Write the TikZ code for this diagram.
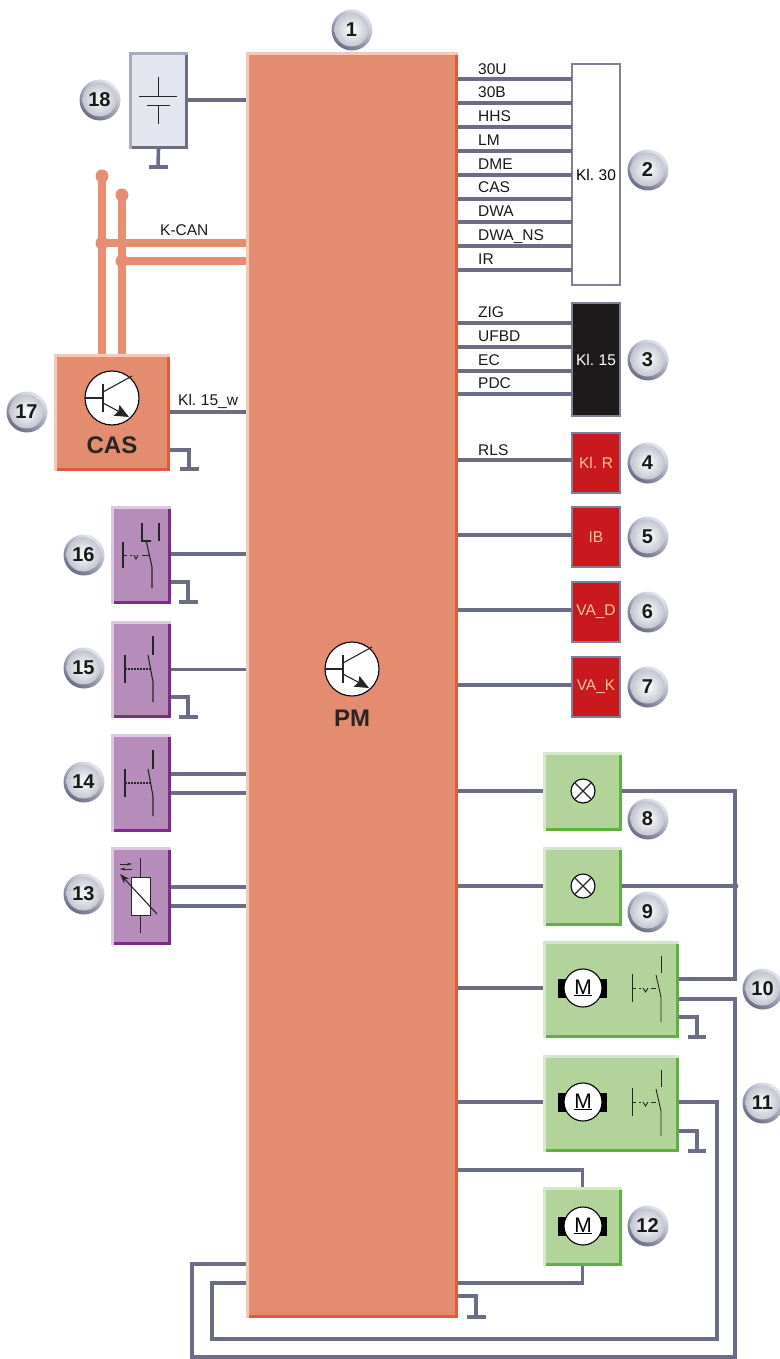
\documentclass[tikz,border=0pt]{standalone}
\usepackage{fontspec}
\setmainfont{Liberation Sans}[WordSpace=0.75]
\usetikzlibrary{arrows.meta,shadings}
\definecolor{wirec}{HTML}{6B6D85}
\definecolor{orF}{HTML}{E48C70}\definecolor{orL}{HTML}{F5C9B7}\definecolor{orD}{HTML}{DD5C3C}
\definecolor{busc}{HTML}{E98D72}
\definecolor{grF}{HTML}{B2D49A}\definecolor{grL}{HTML}{D6E8C8}\definecolor{grD}{HTML}{5EB13E}
\definecolor{puF}{HTML}{B68CBA}\definecolor{puL}{HTML}{DCC9DF}\definecolor{puD}{HTML}{7E2A8B}
\definecolor{gyF}{HTML}{E4E6EF}\definecolor{gyL}{HTML}{A8AABD}\definecolor{gyD}{HTML}{6B6D85}
\definecolor{redbox}{HTML}{C9191F}\definecolor{redtxt}{HTML}{F3C59A}\definecolor{blackbox}{HTML}{1D1A1C}
\definecolor{edgec}{HTML}{7F8199}
\tikzset{
  x=1pt,y=-1pt,
  wire/.style={draw=wirec,line width=3.6pt},
  bus/.style={draw=busc,line width=7.5pt},
  busdot/.style={circle,fill=busc,minimum size=13pt,inner sep=0pt,outer sep=0pt},
  sym/.style={draw=black!85,line width=1.1pt},
  block/.style={rectangle,inner sep=0pt,outer sep=0pt},
  termbox/.style={rectangle,inner sep=0pt,outer sep=0pt,draw=edgec,line width=1.5pt,font=\fontsize{15.5}{18}\selectfont},
  sig/.style={anchor=base west,inner sep=0pt,font=\fontsize{15.5}{18}\selectfont,text=black!90},
  badgetxt/.style={circle,minimum size=34pt,inner sep=0pt,outer sep=3pt,shading=radial,inner color=white,outer color=black!5!gyF!80!wirec,font=\fontsize{20}{22}\bfseries\selectfont,text=black!90},
  whitec/.style={circle,fill=white,draw=black,line width=1.1pt,inner sep=0pt,outer sep=0pt},
}
\newcommand\blk[6]{%
  \pgfmathsetmacro\bw{#4-#2}\pgfmathsetmacro\bh{#5-#3}%
  \pgfmathsetmacro\cx{(#2+#4)/2}\pgfmathsetmacro\cy{(#3+#5)/2}%
  \node[block,fill=#6F,minimum width=\bw pt,minimum height=\bh pt] (#1) at (\cx,\cy) {};
  \fill[#6L] (#2,#3) rectangle (#4,#3+3);
  \fill[#6L] (#2,#3) rectangle (#2+3,#5);
  \fill[#6D] (#4-3,#3+3) rectangle (#4,#5);
  \fill[#6D] (#2+3,#5-3) rectangle (#4,#5);
}
\newcommand\badge[4]{%
  \shade[top color=gyF,bottom color=wirec,shading angle=-35] (#2,#3) circle (20.5);
  \node[badgetxt] (#1) at (#2-0.5,#3-0.5) {#4};
}
\newcommand\gnd[5]{% node, y0, x, y1, half
  \draw[wire] (#1.east |- 0,#2) -| (#3,#4);
  \draw[wire] (#3-#5,#4) -- (#3+#5,#4);
}
\newcommand\transistor[3]{%
  \begin{scope}[shift={(#2,#3)}]
    \node[whitec,minimum size=54pt] (#1) at (0,0) {};
    \draw[sym] (-27,0) -- (-9,0);
    \draw[sym] (-9,-14) -- (-9,14);
    \draw[sym] (-9,-6) -- (20,-22);
    \draw[sym,-{Stealth[length=14pt,width=12pt,inset=2pt]}] (-9,5) -- (17,19);
  \end{scope}
}
\newcommand\lamp[3]{%
  \node[whitec,minimum size=24pt] (#1) at (#2,#3) {};
  \draw[sym] (#1.45) -- (#1.225);
  \draw[sym] (#1.135) -- (#1.315);
}
\newcommand\motor[3]{%
  \fill[black] (#2-25,#3-9) rectangle (#2+24,#3+10);
  \node[whitec,minimum size=38pt,font=\fontsize{21}{23}\selectfont] (#1) at (#2,#3) {$\underline{\hbox{M}}$};
}
\newcommand\dashswitch[2]{%
  \begin{scope}[shift={(#1,#2)}]
    \draw[sym] (-28,-14) -- (-28,14);
    \draw[sym,dash pattern=on 2pt off 1pt] (-28,0) -- (-2,0);
    \draw[sym] (-5,-14) -- (0,13) -- (0,33);
    \draw[sym] (0,-33) -- (0,-14);
  \end{scope}
}
\newcommand\vswitch[2]{%
  \begin{scope}[shift={(#1,#2)}]
    \draw[sym,line width=.9pt] (-29,-14) -- (-29,14);
    \draw[sym,line width=.9pt] (-29,0) -- (-25,0) (-22,0) -- (-20,0) (-10,0) -- (-5,0);
    \draw[sym,line width=.9pt] (-18,0) -- (-15.5,4) -- (-13,0);
    \draw[sym,line width=.9pt] (-5,-13) -- (0,9) -- (0,34);
  \end{scope}
}
\begin{document}
\begin{tikzpicture}
\useasboundingbox (0,0) rectangle (779,1359);
% main block
\blk{pm}{246}{52}{458}{1318}{or}
\transistor{pmt}{352}{669}
\node[font=\fontsize{24}{26}\bfseries\selectfont,text=black!85,inner sep=0pt] (pmlab) at (352,718) {PM};
% battery
\blk{bat}{129}{52}{188}{149}{gy}
\draw[sym,line width=.9pt] (158,77) -- (158,96) (158,105) -- (158,124);
\draw[sym,line width=.9pt] (139,96) -- (177,96) (147,105) -- (170,105);
\draw[wire] (bat.east |- 0,100) -- (pm.west |- 0,100);
\draw[wire] (bat.south |- 0,149) -- (158,167);
\draw[wire] (149,167) -- (168,167);
% CAS
\blk{cas}{54}{354}{170}{471}{or}
\transistor{cast}{112}{398}
\node[font=\fontsize{24}{26}\bfseries\selectfont,text=black!85,inner sep=0pt] (caslab) at (112,445) {CAS};
\coordinate (busA) at (102,176);
\coordinate (busB) at (122,195);
\coordinate (busC) at (102,243);
\coordinate (busD) at (122,261);
\draw[bus] (busA) -- (busA |- cas.north);
\draw[bus] (busB) -- (busB |- cas.north);
\draw[bus] (busC) -- (pm.west |- busC);
\draw[bus] (busD) -- (pm.west |- busD);
\node[busdot] (dotA) at (busA) {};
\node[busdot] (dotB) at (busB) {};
\node[busdot] (dotC) at (busC) {};
\node[busdot] (dotD) at (busD) {};
\node[sig] (kcan) at (160,235) {K-CAN};
\node[sig] (kl15w) at (178,405) {Kl. 15\_w};
\draw[wire] (cas.east |- 0,412) -- (pm.west |- 0,412);
\gnd{cas}{450}{189}{469}{9.5}
% Kl. 30
\node[termbox,fill=white,minimum width=48pt,minimum height=221pt] (k30) at (596,174.5) {Kl. 30};
\foreach \t/\b/\w [count=\i] in {30U/74.5/79,30B/98/103,HHS/122/127,LM/145.5/151,DME/169.5/175,CAS/193/199,DWA/216.5/222,DWA\_NS/240.5/246,IR/264/270}{
  \node[sig] (a\i) at (478,\b) {\t};
  \draw[wire] (pm.east |- 0,\w) -- (k30.west |- 0,\w);
}
% Kl. 15
\node[termbox,fill=blackbox,text=white,minimum width=48pt,minimum height=113pt] (k15) at (596,359.5) {Kl. 15};
\foreach \t/\b/\w [count=\i] in {ZIG/317.5/323,UFBD/341.5/347,EC/365.5/371,PDC/388.5/394}{
  \node[sig] (c\i) at (478,\b) {\t};
  \draw[wire] (pm.east |- 0,\w) -- (k15.west |- 0,\w);
}
% red boxes
\node[termbox,fill=redbox,text=redtxt,minimum width=48pt,minimum height=60pt] (klr) at (596,463) {Kl. R};
\node[termbox,fill=redbox,text=redtxt,minimum width=48pt,minimum height=60pt] (ib) at (596,537) {IB};
\node[termbox,fill=redbox,text=redtxt,minimum width=48pt,minimum height=60pt] (vad) at (596,612) {VA\_D};
\node[termbox,fill=redbox,text=redtxt,minimum width=48pt,minimum height=60pt] (vak) at (596,687) {VA\_K};
\node[sig] (rls) at (478,455.5) {RLS};
\draw[wire] (pm.east |- 0,460) -- (klr.west |- 0,460);
\draw[wire] (pm.east |- 0,535) -- (ib.west |- 0,535);
\draw[wire] (pm.east |- 0,610) -- (vad.west |- 0,610);
\draw[wire] (pm.east |- 0,685) -- (vak.west |- 0,685);
% purple
\blk{s16}{111}{506}{171}{604}{pu}
\blk{s15}{111}{621}{171}{718}{pu}
\blk{s14}{111}{734}{171}{832}{pu}
\blk{s13}{111}{847}{171}{945}{pu}
\draw[wire] (s16.east |- 0,554) -- (pm.west |- 0,554);
\draw[wire] (s15.east |- 0,669.5) -- (pm.west |- 0,669.5);
\draw[wire] (s14.east |- 0,774) -- (pm.west |- 0,774);
\draw[wire] (s14.east |- 0,793) -- (pm.west |- 0,793);
\draw[wire] (s13.east |- 0,887) -- (pm.west |- 0,887);
\draw[wire] (s13.east |- 0,906) -- (pm.west |- 0,906);
\gnd{s16}{582}{188}{602}{9.5}
\gnd{s15}{697}{188}{717}{9.5}
% switch 16
\draw[sym] (123,542) -- (123,568);
\draw[sym,line width=.9pt] (123,555) -- (127,555) (130,555) -- (132,555) (142,555) -- (150,555);
\draw[sym,line width=.9pt] (134,555) -- (136,559) -- (138,555);
\draw[sym] (146,540) -- (152,567) -- (152,588);
\draw[sym] (142,523) -- (142,541) -- (151,541);
\draw[sym] (159,523) -- (159,541);
\dashswitch{153}{669}
\dashswitch{153}{783}
% sensor 13
\node[block,fill=white,draw=black!85,line width=1pt,minimum width=19pt,minimum height=38pt] (ldr) at (140.5,896) {};
\draw[sym] (ldr.north) -- (140.5,858);
\draw[sym] (ldr.south) -- (140.5,933);
\draw[sym,-{Stealth[length=10pt,width=7pt]}] (157,914) -- (120,874);
\draw[sym,line width=.7pt,-{Stealth[length=5pt,width=3pt]}] (120,864) -- (132,864);
\draw[sym,line width=.7pt,-{Stealth[length=5pt,width=3pt]}] (132,869) -- (120,869);
% green
\blk{l8}{543}{752}{622}{831}{gr}
\blk{l9}{543}{847}{622}{926}{gr}
\blk{m10}{543}{941}{679}{1038}{gr}
\blk{m11}{543}{1055}{679}{1152}{gr}
\blk{m12}{543}{1187}{622}{1266}{gr}
\lamp{lamp8}{583}{791}
\lamp{lamp9}{583}{886}
\motor{mot10}{583}{988}
\motor{mot11}{583}{1102}
\motor{mot12}{583}{1226}
\vswitch{661}{988}
\vswitch{661}{1102}
\draw[sym,line width=.9pt] (661,956) -- (661,973) (661,1070) -- (661,1087);
\draw[wire] (pm.east |- 0,791) -- (l8.west |- 0,791);
\draw[wire] (pm.east |- 0,886) -- (l9.west |- 0,886);
\draw[wire] (pm.east |- 0,988) -- (m10.west |- 0,988);
\draw[wire] (pm.east |- 0,1102) -- (m11.west |- 0,1102);
\draw[wire] (l8.east |- 0,791) -| (735,979) -- (m10.east |- 0,979);
\draw[wire] (l9.east |- 0,886) -- (735,886);
\fill[wirec] (735,886) circle (3.4);
\coordinate (kA) at (192,1357);
\coordinate (kB) at (212,1339);
\draw[wire] (m10.east |- 0,999) -| (735,1357) -- (kA) |- (pm.west |- 0,1264);
\draw[wire] (m11.east |- 0,1102) -| (717,1339) -- (kB) |- (pm.west |- 0,1283);
\gnd{m10}{1017}{697}{1037}{9}
\gnd{m11}{1131}{697}{1151}{9}
\draw[wire] (pm.east |- 0,1170) -| (m12.north);
\draw[wire] (m12.south) |- (pm.east |- 0,1283);
\gnd{pm}{1296}{476}{1317}{9.5}
% badges
\badge{b1}{352}{30}{1}
\badge{b2}{648}{170}{2}
\badge{b3}{648}{360}{3}
\badge{b4}{648}{463}{4}
\badge{b5}{648}{537}{5}
\badge{b6}{648}{612}{6}
\badge{b7}{648}{687}{7}
\badge{b8}{648}{819}{8}
\badge{b9}{648}{912}{9}
\badge{b10}{763}{989}{10}
\badge{b11}{763}{1103}{11}
\badge{b12}{648}{1226}{12}
\badge{b13}{84}{894}{13}
\badge{b14}{84}{782}{14}
\badge{b15}{84}{668}{15}
\badge{b16}{84}{555}{16}
\badge{b17}{27}{412}{17}
\badge{b18}{100}{100}{18}
\end{tikzpicture}
\end{document}
